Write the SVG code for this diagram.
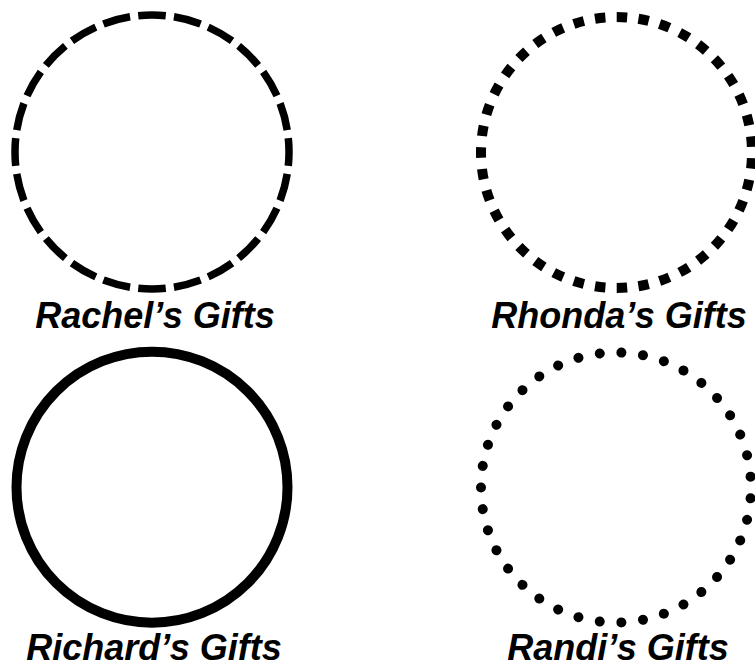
<svg xmlns="http://www.w3.org/2000/svg" width="755" height="669" viewBox="0 0 755 669">
<style>
.ring{fill:none;stroke:#000}
.lbl{font-family:"Liberation Sans",Arial,sans-serif;font-weight:bold;font-style:italic;font-size:36px;fill:#000;text-anchor:middle}
</style>
<rect width="755" height="669" fill="#fff"/>
<g id="rachel">
<circle class="ring" cx="152" cy="152" r="137" stroke-width="7.5" pathLength="240" stroke-dasharray="7.7 2.3" stroke-dashoffset="3.85"/>
<text class="lbl" x="155" y="328">Rachel’s Gifts</text>
</g>
<g id="rhonda">
<circle class="ring" cx="616.5" cy="152.5" r="135.5" stroke-width="10" pathLength="390" stroke-dasharray="4.8 5.2" stroke-dashoffset="-2.6"/>
<text class="lbl" x="619" y="328">Rhonda’s Gifts</text>
</g>
<g id="richard">
<circle class="ring" cx="152" cy="487.2" r="135.5" stroke-width="10"/>
<text class="lbl" x="154" y="660">Richard’s Gifts</text>
</g>
<g id="randi">
<circle class="ring" cx="616" cy="487.5" r="135" stroke-width="10" stroke-linecap="round" pathLength="390" stroke-dasharray="0.001 9.999" stroke-dashoffset="-5"/>
<text class="lbl" x="618" y="660">Randi’s Gifts</text>
</g>
<g id="connectors"/>
</svg>
